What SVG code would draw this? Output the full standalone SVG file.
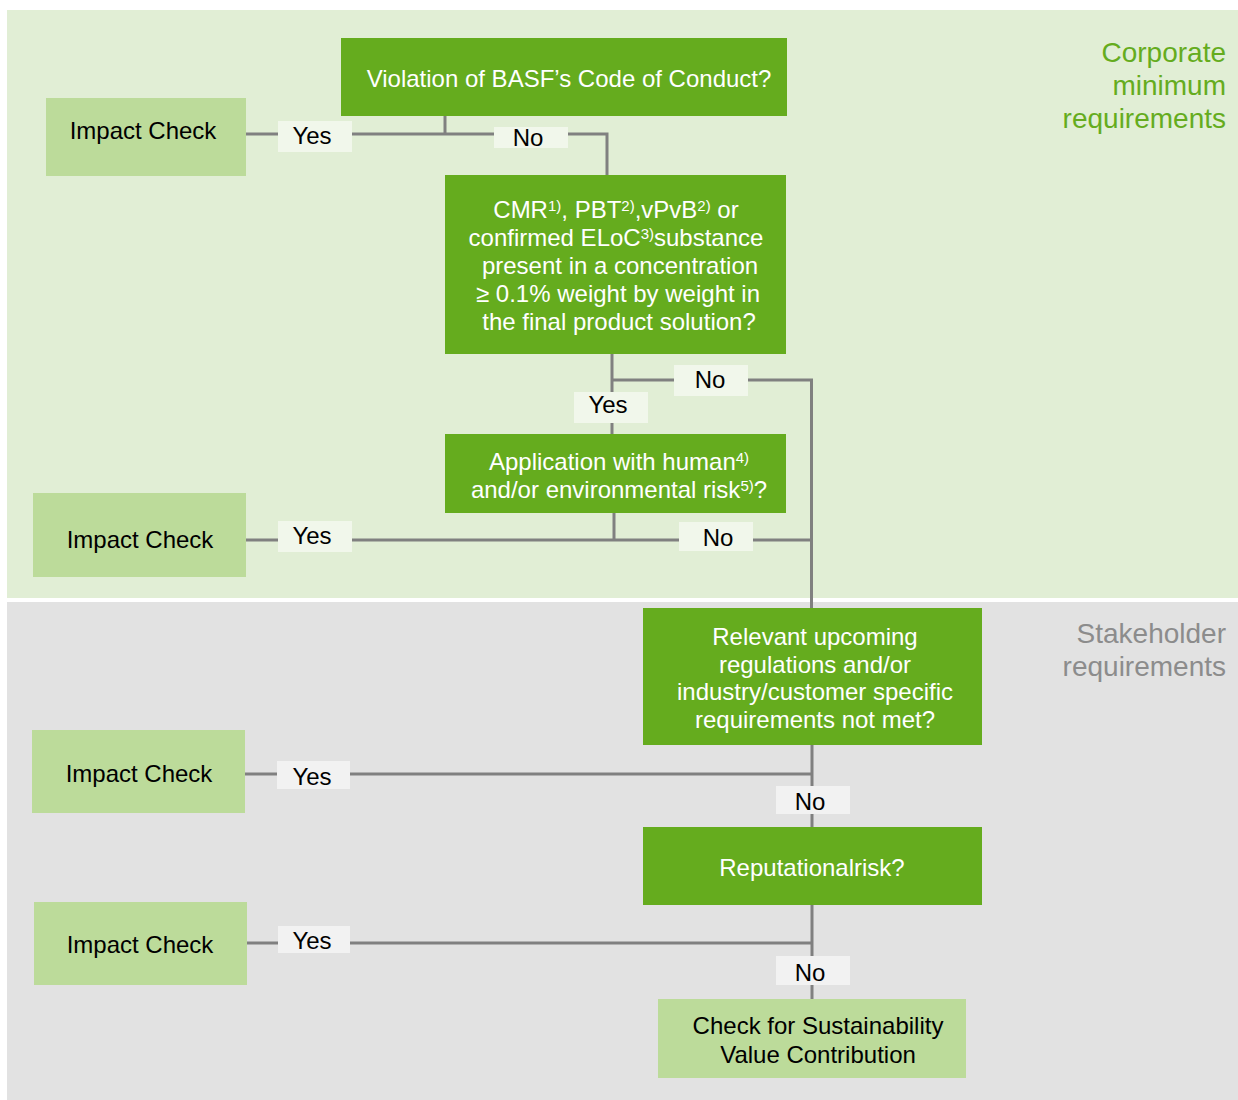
<svg xmlns="http://www.w3.org/2000/svg" width="1238" height="1100" viewBox="0 0 1238 1100">
<style>
text{font-family:"Liberation Sans",Arial,sans-serif}
.dark{fill:#65AC1E}
.light{fill:#BCDB9A}
.wt{fill:#FFFFFF;font-size:24px;text-anchor:middle}
.bt{fill:#000000;font-size:24px;text-anchor:middle}
.lblg{fill:#F1F7EB}
.lbly{fill:#F2F2F2}
.conn{fill:none;stroke:#808080;stroke-width:3}
.sup{font-size:15px}
.zone{font-size:28px;text-anchor:end}
</style>
<rect x="0" y="0" width="1238" height="1100" fill="#FFFFFF"/>
<rect x="7" y="10" width="1231" height="588" fill="#E1EED5"/>
<rect x="7" y="602" width="1231" height="498" fill="#E2E2E2"/>
<g id="zone-corporate">
<text class="zone" fill="#65AC1E"><tspan x="1226" y="62">Corporate</tspan><tspan x="1226" y="95">minimum</tspan><tspan x="1226" y="128">requirements</tspan></text>
</g>
<g id="zone-stakeholder">
<text class="zone" fill="#8C8C8C"><tspan x="1226" y="643">Stakeholder</tspan><tspan x="1226" y="676">requirements</tspan></text>
</g>
<g id="connectors">
<path class="conn" d="M445,116 V134"/>
<path class="conn" d="M246,134 H607 V175"/>
<path class="conn" d="M612,354 V434"/>
<path class="conn" d="M612,380 H811.5 V608"/>
<path class="conn" d="M614,513 V540"/>
<path class="conn" d="M246,540 H811.5"/>
<path class="conn" d="M812,745 V827"/>
<path class="conn" d="M245,774 H812"/>
<path class="conn" d="M812,905 V999"/>
<path class="conn" d="M247,943 H812"/>
<rect class="lblg" x="278" y="121" width="74" height="31"/>
<text class="bt" x="312" y="144">Yes</text>
<rect class="lblg" x="494" y="127" width="74" height="21"/>
<text class="bt" x="528" y="146">No</text>
<rect class="lblg" x="674" y="365" width="74" height="31"/>
<text class="bt" x="710" y="388">No</text>
<rect class="lblg" x="574" y="392" width="74" height="31"/>
<text class="bt" x="608" y="413">Yes</text>
<rect class="lblg" x="278" y="521" width="74" height="31"/>
<text class="bt" x="312" y="544">Yes</text>
<rect class="lblg" x="679" y="522" width="74" height="29"/>
<text class="bt" x="718" y="546">No</text>
<rect class="lbly" x="277" y="761" width="73" height="28"/>
<text class="bt" x="312" y="785">Yes</text>
<rect class="lbly" x="776" y="786" width="74" height="28"/>
<text class="bt" x="810" y="810">No</text>
<rect class="lbly" x="278" y="926" width="72" height="27"/>
<text class="bt" x="312" y="949">Yes</text>
<rect class="lbly" x="776" y="956" width="74" height="29"/>
<text class="bt" x="810" y="981">No</text>
</g>
<g id="violation">
<rect class="dark" x="341" y="38" width="446" height="78"/>
<text class="wt" x="569" y="87">Violation of BASF’s Code of Conduct?</text>
</g>
<g id="impact1">
<rect class="light" x="46" y="98" width="200" height="78"/>
<text class="bt" x="143" y="139">Impact Check</text>
</g>
<g id="cmr">
<rect class="dark" x="445" y="175" width="341" height="179"/>
<text class="wt" x="616" y="218">CMR<tspan class="sup" dy="-7">1)</tspan><tspan dy="7">, PBT</tspan><tspan class="sup" dy="-7">2)</tspan><tspan dy="7">,vPvB</tspan><tspan class="sup" dy="-7">2)</tspan><tspan dy="7"> or</tspan></text>
<text class="wt" x="616" y="246">confirmed ELoC<tspan class="sup" dy="-7">3)</tspan><tspan dy="7">substance</tspan></text>
<text class="wt" x="620" y="274">present in a concentration</text>
<text class="wt" x="618" y="302">≥ 0.1% weight by weight in</text>
<text class="wt" x="619" y="330">the final product solution?</text>
</g>
<g id="application">
<rect class="dark" x="445" y="434" width="341" height="79"/>
<text class="wt" x="619" y="470">Application with human<tspan class="sup" dy="-7">4)</tspan></text>
<text class="wt" x="619" y="498">and/or environmental risk<tspan class="sup" dy="-7">5)</tspan><tspan dy="7">?</tspan></text>
</g>
<g id="impact2">
<rect class="light" x="33" y="493" width="213" height="84"/>
<text class="bt" x="140" y="548">Impact Check</text>
</g>
<g id="relevant">
<rect class="dark" x="643" y="608" width="339" height="137"/>
<text class="wt"><tspan x="815" y="645">Relevant upcoming</tspan><tspan x="815" y="673">regulations and/or</tspan><tspan x="815" y="700">industry/customer specific</tspan><tspan x="815" y="728">requirements not met?</tspan></text>
</g>
<g id="impact3">
<rect class="light" x="32" y="730" width="213" height="83"/>
<text class="bt" x="139" y="782">Impact Check</text>
</g>
<g id="reputational">
<rect class="dark" x="643" y="827" width="339" height="78"/>
<text class="wt" x="812" y="876">Reputationalrisk?</text>
</g>
<g id="impact4">
<rect class="light" x="34" y="902" width="213" height="83"/>
<text class="bt" x="140" y="953">Impact Check</text>
</g>
<g id="sustainability">
<rect class="light" x="658" y="999" width="308" height="79"/>
<text class="bt"><tspan x="818" y="1034">Check for Sustainability</tspan><tspan x="818" y="1063">Value Contribution</tspan></text>
</g>
</svg>
